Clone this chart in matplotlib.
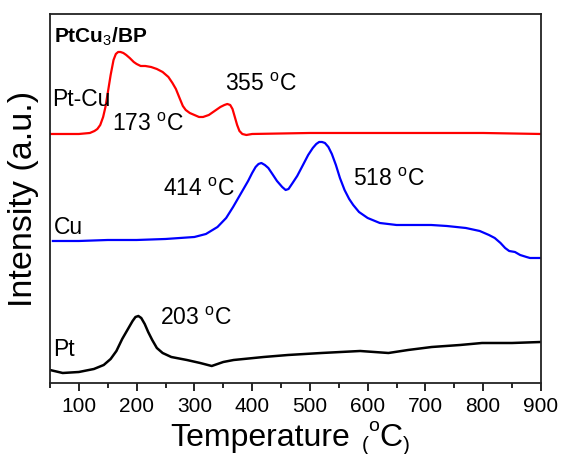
import numpy as np
import matplotlib
matplotlib.use('Agg')
from matplotlib import pyplot as plt
from matplotlib.ticker import MultipleLocator

plt.rcParams['font.family'] = ['Liberation Sans', 'DejaVu Sans']
plt.rcParams['mathtext.fontset'] = 'custom'
plt.rcParams['mathtext.rm'] = 'Liberation Sans'
plt.rcParams['mathtext.bf'] = 'Liberation Sans:bold'

# Pt-Cu (red) trace
ptcu_T = [50, 100, 119, 127, 132, 137, 142, 146, 150, 155, 160, 164, 168, 172, 177, 182, 188, 195, 200,
          207, 215, 225, 235, 245, 255, 262, 268, 275, 280, 285, 292, 300, 308, 315, 325, 335, 345, 352,
          357, 362, 366, 370, 374, 378, 383, 390, 400, 500, 600, 700, 800, 900]
ptcu_I = [249, 249, 250, 252, 254, 258, 266, 276, 290, 308, 323, 329, 331, 331, 330, 328, 325, 321, 319,
          317, 317, 316, 314, 311, 306, 300, 294, 284, 277, 273, 270, 268, 266, 266, 268, 272, 276, 278,
          279, 278, 274, 266, 258, 252, 249, 248, 249, 250, 250, 250, 250, 249]

# Cu (blue) trace
cu_T = [55, 100, 150, 200, 250, 300, 320, 340, 355, 367, 378, 386, 393, 400, 406, 411, 416, 422, 428,
        435, 443, 452, 458, 463, 470, 478, 488, 497, 505, 511, 516, 521, 526, 532, 538, 545, 552, 560,
        568, 575, 585, 600, 621, 650, 678, 710, 737, 770, 794, 810, 820, 830, 838, 845, 855, 864, 875,
        881, 900]
cu_I = [142, 142, 143, 143, 144, 146, 149, 156, 165, 176, 187, 195, 202, 210, 216, 219, 220, 218, 215,
        209, 202, 196, 193, 194, 200, 207, 218, 228, 235, 239, 241, 241, 240, 236, 229, 218, 205, 193,
        184, 178, 171, 165, 160, 158, 158, 158, 157, 155, 152, 148, 145, 140, 135, 132, 131, 128, 126,
        125, 125]

# Pt (black) trace
pt_T = [50, 72, 100, 126, 143, 155, 165, 175, 185, 193, 198, 203, 208, 214, 220, 227, 235, 245, 260,
        287, 310, 330, 350, 368, 420, 462, 520, 587, 636, 670, 711, 760, 798, 850, 900]
pt_I = [13, 10, 11, 14, 18, 24, 32, 44, 54, 62, 66, 67, 65, 59, 51, 43, 35, 30, 26,
        23, 20, 17, 21, 23, 26, 28, 30, 32, 30, 33, 36, 38, 40, 40, 41]

fig = plt.figure(figsize=(5.63, 4.54), dpi=100)
ax = fig.add_axes([0.0888, 0.1564, 0.872, 0.8128])

ax.plot(ptcu_T, ptcu_I, color='#ff0000', lw=1.6)
ax.plot(cu_T, cu_I, color='#0000ff', lw=1.6)
ax.plot(pt_T, pt_I, color='black', lw=1.8)

ax.set_xlim(50, 900)
ax.set_ylim(0, 369)
ax.xaxis.set_major_locator(MultipleLocator(100))
ax.xaxis.set_minor_locator(MultipleLocator(50))
ax.set_yticks([])
ax.tick_params(axis='x', which='major', direction='out', length=6, width=1.2, labelsize=15, pad=4)
ax.tick_params(axis='x', which='minor', direction='out', length=3.5, width=1.2)
for s in ax.spines.values():
    s.set_linewidth(1.3)
    s.set_color('#222222')

ax.set_ylabel('Intensity (a.u.)', fontsize=24.5, labelpad=8)

# x label built from pieces: small parentheses, superscript o
yb = 0.018
lsz = 23
t1 = fig.text(0.303, yb, 'Temperature', fontsize=lsz, va='baseline')
t2 = ax.annotate('(', xy=(1, yb), xycoords=(t1, 'figure fraction'), xytext=(8, -4),
                 textcoords='offset points', fontsize=15, va='baseline')
t3 = ax.annotate('o', xy=(1, yb), xycoords=(t2, 'figure fraction'), xytext=(0, 11),
                 textcoords='offset points', fontsize=14, va='baseline')
t4 = ax.annotate('C', xy=(1, yb), xycoords=(t3, 'figure fraction'), xytext=(0, 0),
                 textcoords='offset points', fontsize=lsz, va='baseline')
t5 = ax.annotate(')', xy=(1, yb), xycoords=(t4, 'figure fraction'), xytext=(0, -4),
                 textcoords='offset points', fontsize=15, va='baseline')

fs = 16.5
ax.text(57, 346, r'PtCu$_3$/BP', fontsize=15, fontweight='bold', va='center')
ax.text(54, 283, 'Pt-Cu', fontsize=fs, va='center')
ax.text(157, 258, r'173 $^{\rm o}$C', fontsize=fs, va='center')
ax.text(353, 298, r'355 $^{\rm o}$C', fontsize=fs, va='center')
ax.text(56, 155, 'Cu', fontsize=fs, va='center')
ax.text(246, 193, r'414 $^{\rm o}$C', fontsize=fs, va='center')
ax.text(575, 203, r'518 $^{\rm o}$C', fontsize=fs, va='center')
ax.text(56, 33, 'Pt', fontsize=fs, va='center')
ax.text(240, 64, r'203 $^{\rm o}$C', fontsize=fs, va='center')

fig.savefig('out.png', dpi=100)
